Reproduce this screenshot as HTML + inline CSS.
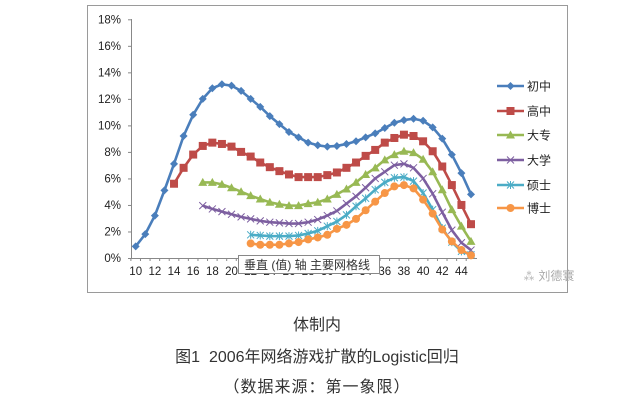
<!DOCTYPE html>
<html><head><meta charset="utf-8"><style>
body{margin:0;background:#fff;width:634px;height:410px;overflow:hidden;font-family:"Liberation Sans","Noto Sans CJK SC",sans-serif}
.cap{position:absolute;left:0;width:634px;text-align:center;color:#333;font-size:16px;line-height:22px}
</style></head><body>
<svg width="634" height="410" style="position:absolute;left:0;top:0">
<rect x="87.5" y="5.5" width="480" height="287" fill="#fff" stroke="#9a9a9a"/>
<g id="axes"></g><g id="series"></g><g id="legend"></g>
<g>
<rect x="238.5" y="255.5" width="141" height="18" fill="#fff" stroke="#888"/>
<text x="244" y="269" font-size="12" fill="#333" font-family="Liberation Sans,Noto Sans CJK SC,sans-serif">垂直 (值) 轴 主要网格线</text>
</g>
<text x="523" y="280" font-size="12" fill="#aaa" font-family="Liberation Sans,Noto Sans CJK SC,sans-serif">⁂ 刘德寰</text>
</svg>
<div class="cap" style="top:315px">体制内</div>
<div class="cap" style="top:347px">图1&nbsp; 2006年网络游戏扩散的Logistic回归</div>
<div class="cap" style="top:377px;letter-spacing:1px">（数据来源：第一象限）</div>
<script>
const seriesNames=["初中","高中","大专","大学","硕士","博士"];
const startAges=[10,14,17,17,22,22];
const s0=[0.88,1.8,3.2,5.1,7.1,9.2,10.8,12.0,12.8,13.1,13.0,12.6,12.0,11.4,10.7,10.1,9.5,9.1,8.7,8.5,8.4,8.45,8.6,8.8,9.1,9.4,9.8,10.2,10.4,10.5,10.35,9.85,9.0,7.8,6.4,4.8];
const s1=[5.6,6.8,7.8,8.45,8.7,8.6,8.4,8.0,7.65,7.2,6.85,6.55,6.3,6.1,6.1,6.1,6.25,6.45,6.8,7.2,7.7,8.15,8.7,9.05,9.3,9.2,8.8,8.05,6.9,5.5,4.0,2.55];
const s2=[5.7,5.7,5.55,5.3,5.0,4.7,4.45,4.2,4.05,3.95,3.95,4.1,4.2,4.45,4.8,5.2,5.7,6.3,6.8,7.4,7.8,8.05,7.95,7.45,6.5,5.15,3.65,2.4,1.25];
const s3=[3.95,3.7,3.5,3.3,3.1,2.95,2.8,2.7,2.65,2.6,2.6,2.7,2.9,3.2,3.55,4.1,4.65,5.3,6.0,6.5,7.0,7.1,6.8,6.0,4.85,3.45,2.1,1.15,0.6];
const s4=[1.75,1.7,1.65,1.65,1.65,1.7,1.85,2.05,2.4,2.75,3.25,3.9,4.5,5.15,5.7,6.05,6.1,5.8,4.9,3.65,2.25,1.2,0.5,0.25];
const s5=[1.1,1.0,1.0,1.0,1.1,1.2,1.4,1.55,1.75,2.2,2.5,2.95,3.6,4.25,4.9,5.4,5.5,5.25,4.4,3.35,2.15,1.25,0.6,0.2];
const yTicks=[0,2,4,6,8,10,12,14,16,18];
const xTicks=[10,12,14,16,18,20,22,24,26,28,30,32,34,36,38,40,42,44];
const allSeries=[s0,s1,s2,s3,s4,s5];
const colors=["#4a7ebb","#be4b48","#98b954","#7d5fa0","#4bacc6","#f79646"];
const markers=["diamond","square","triangle","x","star","circle"];
const NS="http://www.w3.org/2000/svg";
const X=a=>135.7+(a-10)*9.58;
const Y=v=>258-v*(238.7/18);
function mk(t,at,p){const e=document.createElementNS(NS,t);for(const k in at)e.setAttribute(k,at[k]);p.appendChild(e);return e;}
const axes=document.getElementById('axes');
mk('line',{x1:131.5,y1:19,x2:131.5,y2:258,stroke:'#888'},axes);
mk('line',{x1:131,y1:258.5,x2:477,y2:258.5,stroke:'#888'},axes);
yTicks.forEach(v=>{
 mk('line',{x1:128,x2:131.5,y1:Y(v)+.5,y2:Y(v)+.5,stroke:'#888'},axes);
 const t=mk('text',{x:121,y:Y(v)+4,'font-size':11.5,'text-anchor':'end',fill:'#222'},axes);
 
 
 t.textContent=v+'%';
});
for(let a=10;a<=45;a++)mk('line',{x1:X(a)-4.8,x2:X(a)-4.8,y1:258,y2:261,stroke:'#888'},axes);
xTicks.forEach(a=>{
 const t=mk('text',{x:X(a),y:275,'font-size':11.5,'text-anchor':'middle',fill:'#222'},axes);
 
 
 t.textContent=a;
});
function marker(kind,x,y,c,p){
 if(kind==='diamond')mk('polygon',{points:`${x},${y-4} ${x+4},${y} ${x},${y+4} ${x-4},${y}`,fill:c},p);
 else if(kind==='square')mk('rect',{x:x-4,y:y-4,width:8,height:8,fill:c},p);
 else if(kind==='triangle')mk('polygon',{points:`${x},${y-4.5} ${x+4.5},${y+3.5} ${x-4.5},${y+3.5}`,fill:c},p);
 else if(kind==='x')mk('path',{d:`M${x-3.5},${y-3.5}L${x+3.5},${y+3.5}M${x-3.5},${y+3.5}L${x+3.5},${y-3.5}`,stroke:c,'stroke-width':1},p);
 else if(kind==='star')mk('path',{d:`M${x-3.5},${y-3.5}L${x+3.5},${y+3.5}M${x-3.5},${y+3.5}L${x+3.5},${y-3.5}M${x},${y-4}L${x},${y+4}`,stroke:c,'stroke-width':1},p);
 else mk('circle',{cx:x,cy:y,r:4,fill:c},p);
}
const sg=document.getElementById('series');
allSeries.forEach((arr,i)=>{
 const g=mk('g',{},sg);
 
 
 const pts=arr.map((v,j)=>[X(startAges[i]+j),Y(v)]);
 mk('polyline',{points:pts.map(p=>p.join(',')).join(' '),fill:'none',stroke:colors[i],'stroke-width':2.6,'stroke-linejoin':'round'},g);
 pts.forEach(p=>marker(markers[i],p[0],p[1],colors[i],g));
});
const lg=document.getElementById('legend');
const ly=[86,111,135,160,185,208];
seriesNames.forEach((n,i)=>{
 const g=mk('g',{},lg);
 
 
 mk('line',{x1:497,x2:524,y1:ly[i],y2:ly[i],stroke:colors[i],'stroke-width':2.6},g);
 marker(markers[i],510.5,ly[i],colors[i],g);
 const t=mk('text',{x:527,y:ly[i]+4.5,'font-size':12,fill:'#222'},g);
 t.textContent=n;
});
</script>
</body></html>
